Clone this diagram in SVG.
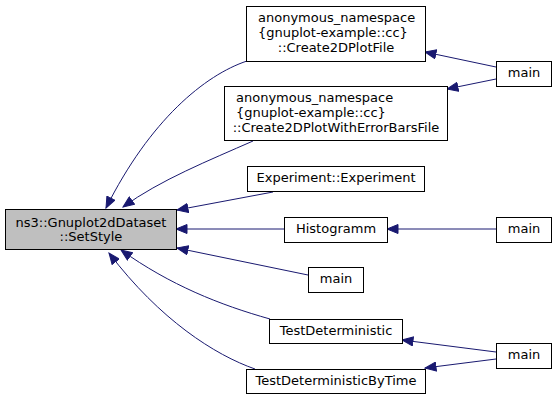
<svg xmlns="http://www.w3.org/2000/svg" width="557" height="400" viewBox="0 0 557 400">
<defs>
<style>
.n rect{fill:#ffffff;stroke:#000000;stroke-width:1}
.n text{font-family:"DejaVu Sans",sans-serif;font-size:13px;fill:#000000}
.c{text-anchor:middle}
.e path{fill:none;stroke:#191970;stroke-width:1;marker-end:url(#arr)}
</style>
<marker id="arr" markerWidth="13" markerHeight="10" refX="11.5" refY="5" orient="auto" markerUnits="userSpaceOnUse">
<path d="M0.5,0.5 L11.5,5 L0.5,9.5 z" fill="#191970" stroke="#191970" stroke-width="1"/>
</marker>
</defs>
<rect width="557" height="400" fill="#ffffff"/>
<g id="edges" class="e">
<path d="M247,61 C205,75 150,120 106,208"/>
<path d="M253,141 C210,160 160,180 123,207"/>
<path d="M273,192 L177,210"/>
<path d="M284,229 L176,229"/>
<path d="M308,275 L177,248"/>
<path d="M270,319 C220,305 170,285 121,250"/>
<path d="M255,369 C215,355 160,320 109,253"/>
<path d="M496,67 L425,52"/>
<path d="M496,79 L447,89"/>
<path d="M496,229 L387,229"/>
<path d="M496,352 L402,340"/>
<path d="M496,359 L425,368"/>
</g>
<g id="setstyle" class="n">
<rect x="5.5" y="209.5" width="171" height="40" style="fill:#bfbfbf"/>
<text class="c" x="91" y="226.5">ns3::Gnuplot2dDataset</text>
<text class="c" x="91" y="241">::SetStyle</text>
</g>
<g id="create2dplotfile" class="n">
<rect x="246.5" y="6.5" width="179" height="55"/>
<text x="258" y="22">anonymous_namespace</text>
<text x="258" y="37">{gnuplot-example::cc}</text>
<text class="c" x="336" y="52">::Create2DPlotFile</text>
</g>
<g id="create2dplotwitherrorbarsfile" class="n">
<rect x="224.5" y="86.5" width="223" height="54"/>
<text x="236" y="102">anonymous_namespace</text>
<text x="236" y="117">{gnuplot-example::cc}</text>
<text class="c" x="336" y="132">::Create2DPlotWithErrorBarsFile</text>
</g>
<g id="experiment" class="n">
<rect x="247.5" y="166.5" width="177" height="25"/>
<text class="c" x="336" y="182">Experiment::Experiment</text>
</g>
<g id="histogramm" class="n">
<rect x="284.5" y="217.5" width="103" height="25"/>
<text class="c" x="336" y="233">Histogramm</text>
</g>
<g id="main_mid" class="n">
<rect x="308.5" y="267.5" width="55" height="25"/>
<text class="c" x="336" y="283">main</text>
</g>
<g id="testdeterministic" class="n">
<rect x="269.5" y="319.5" width="133" height="24"/>
<text class="c" x="336" y="335">TestDeterministic</text>
</g>
<g id="testdeterministicbytime" class="n">
<rect x="246.5" y="369.5" width="179" height="24"/>
<text class="c" x="336" y="385">TestDeterministicByTime</text>
</g>
<g id="main_top" class="n">
<rect x="496.5" y="61.5" width="55" height="25"/>
<text class="c" x="524" y="77">main</text>
</g>
<g id="main_hist" class="n">
<rect x="496.5" y="217.5" width="55" height="25"/>
<text class="c" x="524" y="233">main</text>
</g>
<g id="main_bottom" class="n">
<rect x="496.5" y="343.5" width="55" height="25"/>
<text class="c" x="524" y="359">main</text>
</g>
</svg>
